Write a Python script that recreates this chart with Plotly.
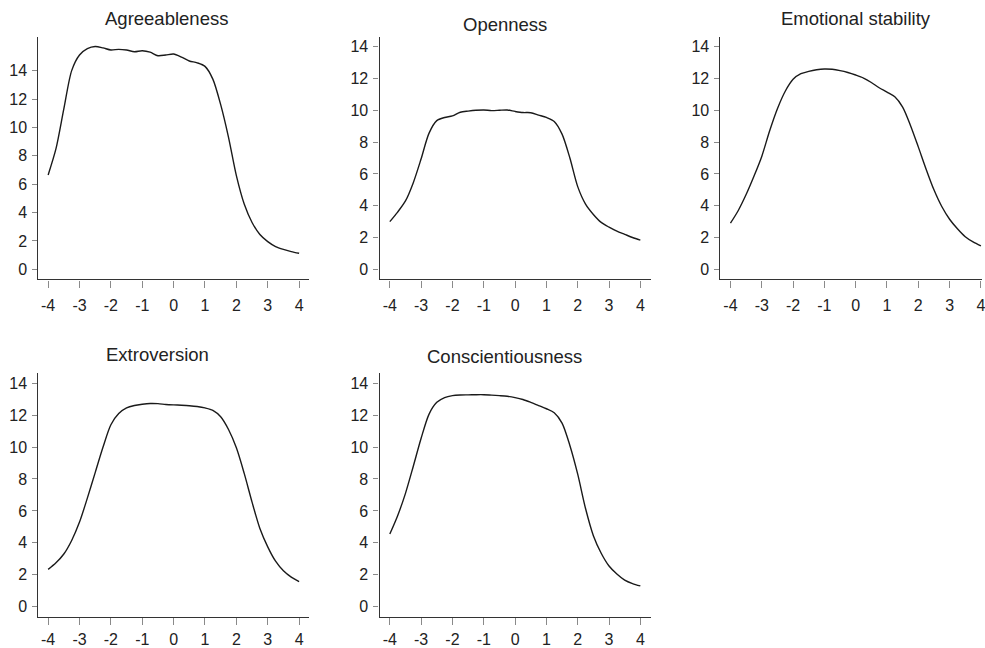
import plotly.graph_objects as go

# ---- data ----
x_vals = [-4.0, -3.75, -3.5, -3.25, -3.0, -2.75, -2.5, -2.25, -2.0, -1.75, -1.5, -1.25, -1.0,
          -0.75, -0.5, -0.25, 0.0, 0.25, 0.5, 0.75, 1.0, 1.25, 1.5, 1.75, 2.0, 2.25, 2.5,
          2.75, 3.0, 3.25, 3.5, 3.75, 4.0]

agreeableness = [6.65, 8.5, 11.3, 14.0, 15.1, 15.55, 15.7, 15.6, 15.45, 15.5, 15.45, 15.33, 15.4,
                 15.3, 15.05, 15.1, 15.17, 14.95, 14.68, 14.55, 14.3, 13.4, 11.6, 9.3, 6.6, 4.6, 3.3,
                 2.45, 1.95, 1.6, 1.4, 1.25, 1.13]
openness = [3.0, 3.6, 4.3, 5.45, 6.95, 8.55, 9.35, 9.55, 9.65, 9.88, 9.95, 10.0, 10.02,
            9.98, 10.0, 10.02, 9.93, 9.86, 9.85, 9.7, 9.55, 9.3, 8.5, 7.0, 5.2, 4.1, 3.45,
            2.95, 2.65, 2.4, 2.2, 2.0, 1.84]
emotional_stability = [2.9, 3.7, 4.7, 5.85, 7.1, 8.7, 10.1, 11.2, 11.95, 12.3, 12.45, 12.55, 12.6,
                       12.58, 12.5, 12.38, 12.22, 12.03, 11.75, 11.42, 11.15, 10.85, 10.2, 9.05, 7.7,
                       6.3, 5.0, 3.95, 3.15, 2.55, 2.05, 1.72, 1.47]
extroversion = [2.34, 2.75, 3.3, 4.15, 5.3, 6.8, 8.4, 10.0, 11.4, 12.1, 12.45, 12.6, 12.68,
                12.73, 12.72, 12.67, 12.64, 12.62, 12.59, 12.54, 12.45, 12.3, 11.9, 11.1, 9.95,
                8.35, 6.55, 4.9, 3.75, 2.85, 2.25, 1.85, 1.57]
conscientiousness = [4.55, 5.7, 7.1, 8.8, 10.55, 12.05, 12.8, 13.1, 13.22, 13.26, 13.27, 13.28, 13.28,
                     13.25, 13.22, 13.18, 13.1, 12.98, 12.8, 12.6, 12.4, 12.15, 11.5, 10.1, 8.3,
                     6.15, 4.45, 3.35, 2.55, 2.05, 1.67, 1.45, 1.3]

titles = ["Agreeableness", "Openness", "Emotional stability", "Extroversion", "Conscientiousness"]
series = [agreeableness, openness, emotional_stability, extroversion, conscientiousness]

x_tick_vals = [-4, -3, -2, -1, 0, 1, 2, 3, 4]
x_tick_text = ["-4", "-3", "-2", "-1", "0", "1", "2", "3", "4"]
y_tick_vals = [0, 2, 4, 6, 8, 10, 12, 14]
y_tick_text = ["0", "2", "4", "6", "8", "10", "12", "14"]

# ---- layout geometry (pixels in a 985x648 canvas) ----
W, H = 985, 648
panels = [
    dict(x=(38.5, 310.0), y=(36.7, 279.4), xr=[-4.311, 4.317], yr=[-0.712, 16.39], t=(166.7, 18.5), so=4),
    dict(x=(380.7, 652.7), y=(36.7, 279.4), xr=[-4.328, 4.331], yr=[-0.635, 14.63], t=(506.7, 24.5), so=4),
    dict(x=(722.7, 985.0), y=(36.7, 279.4), xr=[-4.318, 4.035], yr=[-0.635, 14.63], t=(858.7, 18.5), so=4),
    dict(x=(38.5, 310.0), y=(373.3, 617.3), xr=[-4.311, 4.317], yr=[-0.664, 14.62], t=(158.3, 354.5), so=0),
    dict(x=(380.7, 652.7), y=(373.3, 617.3), xr=[-4.328, 4.331], yr=[-0.664, 14.62], t=(505.8, 356.0), so=0),
]

FONT = "Liberation Sans, Arial, sans-serif"
fig = go.Figure()
layout = dict(
    width=W, height=H,
    margin=dict(l=0, r=0, t=0, b=0),
    paper_bgcolor="white", plot_bgcolor="white",
    showlegend=False,
    font=dict(family=FONT, color="#222222"),
    annotations=[],
)

for i, (p, ys, title) in enumerate(zip(panels, series, titles)):
    n = "" if i == 0 else str(i + 1)
    fig.add_trace(go.Scatter(
        x=x_vals, y=ys, mode="lines",
        line=dict(color="#1a1a1a", width=1.4, shape="spline", smoothing=0.8),
        xaxis="x" + n, yaxis="y" + n, hoverinfo="skip",
    ))
    layout["xaxis" + n] = dict(
        domain=[p["x"][0] / W, min(p["x"][1] / W, 1.0)],
        range=p["xr"], anchor="y" + n,
        showgrid=False, zeroline=False,
        showline=True, linecolor="#333333", linewidth=1.2,
        ticks="outside", ticklen=7, tickwidth=1.2, tickcolor="#8a8a8a",
        tickvals=x_tick_vals, ticktext=x_tick_text,
        tickfont=dict(family=FONT, size=16, color="#222222"),
        ticklabelstandoff=p["so"], ticklabeloverflow="allow",
        fixedrange=True,
    )
    layout["yaxis" + n] = dict(
        domain=[1 - p["y"][1] / H, 1 - p["y"][0] / H],
        range=p["yr"], anchor="x" + n,
        showgrid=False, zeroline=False,
        showline=True, linecolor="#333333", linewidth=1.2,
        ticks="outside", ticklen=5, tickwidth=1.2, tickcolor="#8a8a8a",
        tickvals=y_tick_vals, ticktext=y_tick_text,
        tickfont=dict(family=FONT, size=16, color="#222222"),
        ticklabelstandoff=2,
        fixedrange=True,
    )
    layout["annotations"].append(dict(
        text=title, x=p["t"][0] / W, y=1 - p["t"][1] / H,
        xref="paper", yref="paper", xanchor="center", yanchor="middle",
        showarrow=False, font=dict(family=FONT, size=18.5, color="#222222"),
    ))

fig.update_layout(**layout)
fig.write_html(
    "out.html",
    config={"displayModeBar": False},
    post_script="document.body.style.margin='0';document.body.style.overflow='hidden';",
)
